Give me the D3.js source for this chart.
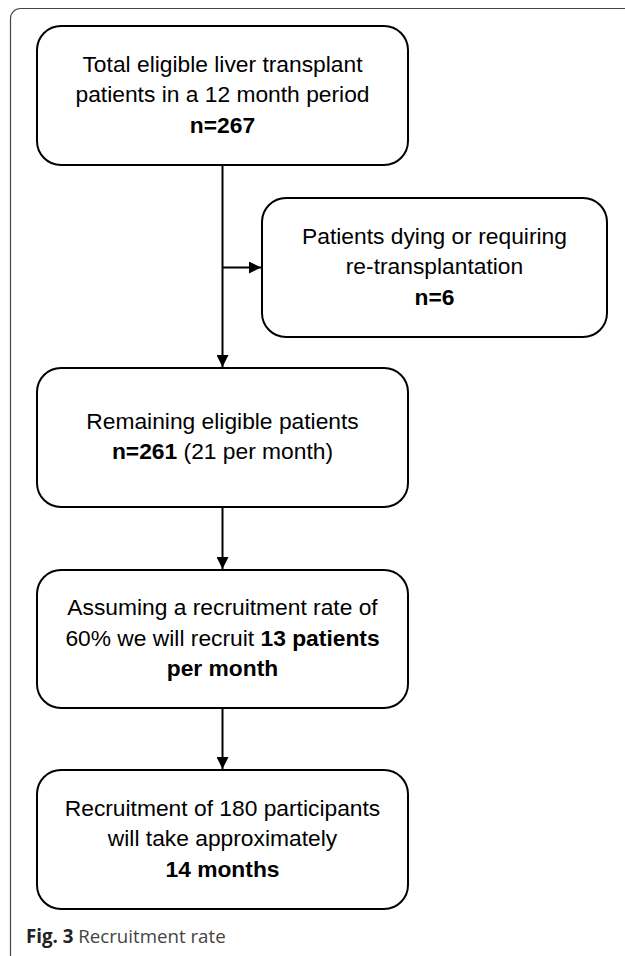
<!DOCTYPE html>
<html>
<head>
<meta charset="utf-8">
<script src="https://cdn.jsdelivr.net/npm/d3@7"></script>
<style>
  body { margin: 0; background: #fff; }
</style>
</head>
<body>
<script>
// flow steps - each line is a list of [text, bold] pieces
var stepIds = ['total', 'excluded', 'remaining', 'rate', 'duration'];
var stepLines = [
  [[['Total eligible liver transplant', false]], [['patients in a 12 month period', false]], [['n=267', true]]],
  [[['Patients dying or requiring', false]], [['re-transplantation', false]], [['n=6', true]]],
  [[['Remaining eligible patients', false]], [['n=261', true], [' (21 per month)', false]]],
  [[['Assuming a recruitment rate of', false]], [['60% we will recruit ', false], ['13 patients', true]], [['per month', true]]],
  [[['Recruitment of 180 participants', false]], [['will take approximately', false]], [['14 months', true]]]
];
// which step each arrow joins (main column + side branch)
var links = [['remaining', 'rate'], ['rate', 'duration']];
var branch = ['total', 'remaining', 'excluded'];
var captionBold = 'Fig. 3';
var captionText = ' Recruitment rate';

var width = 625;
var height = 956;

var svg = d3.select('body')
  .append('svg')
  .attr('width', width)
  .attr('height', height);

svg.append('defs').append('marker')
  .attr('id', 'arrow')
  .attr('viewBox', '0 0 10 10')
  .attr('refX', 10)
  .attr('refY', 5)
  .attr('markerWidth', 13)
  .attr('markerHeight', 12)
  .attr('markerUnits', 'userSpaceOnUse')
  .attr('orient', 'auto')
  .append('path')
  .attr('d', 'M0,0L10,5L0,10Z')
  .attr('fill', '#000');

// outer frame, right side runs off the page
svg.append('rect')
  .attr('x', 10.5)
  .attr('y', 8.5)
  .attr('width', 640)
  .attr('height', 960)
  .attr('rx', 10)
  .attr('fill', 'none')
  .attr('stroke', '#444')
  .attr('stroke-width', 1.2);

// layout: box edges (px)
var col = { main: [37, 408], side: [262, 607] };
var boxY = d3.scaleOrdinal()
  .domain(stepIds)
  .range([[26, 165], [198, 337], [368, 507], [570, 708], [770, 909]]);
var boxX = d3.scaleOrdinal()
  .domain(stepIds)
  .range([col.main, col.side, col.main, col.main, col.main]);

var steps = stepIds.map(function(id, i) {
  var x = boxX(id), y = boxY(id);
  return { id: id, lines: stepLines[i], x0: x[0], x1: x[1], y0: y[0], y1: y[1],
           cx: (x[0] + x[1]) / 2, cy: (y[0] + y[1]) / 2 };
});
var byId = {};
steps.forEach(function(s) { byId[s.id] = s; });

var lineH = 30.5;

var box = svg.append('g').selectAll('g')
  .data(steps)
  .enter()
  .append('g');

box.append('rect')
  .attr('x', function(d) { return d.x0; })
  .attr('y', function(d) { return d.y0; })
  .attr('width', function(d) { return d.x1 - d.x0; })
  .attr('height', function(d) { return d.y1 - d.y0; })
  .attr('rx', 24)
  .attr('fill', '#fff')
  .attr('stroke', '#000')
  .attr('stroke-width', 2);

box.each(function(d) {
  var g = d3.select(this);
  var n = d.lines.length;
  d.lines.forEach(function(line, i) {
    var t = g.append('text')
      .attr('x', d.cx)
      .attr('y', d.cy + (i - (n - 1) / 2) * lineH + 6.5)
      .attr('text-anchor', 'middle')
      .attr('font-family', 'Liberation Sans, Arial, sans-serif')
      .attr('font-size', 22.8)
      .attr('fill', '#000');
    t.selectAll('tspan')
      .data(line)
      .enter()
      .append('tspan')
      .attr('font-weight', function(p) { return p[1] ? 'bold' : 'normal'; })
      .style('white-space', 'pre')
      .text(function(p) { return p[0]; });
  });
});

var arrows = svg.append('g')
  .attr('stroke', '#000')
  .attr('stroke-width', 2)
  .attr('fill', 'none');

// main vertical arrows
links.concat([[branch[0], branch[1]]]).forEach(function(l) {
  var a = byId[l[0]], b = byId[l[1]];
  arrows.append('line')
    .attr('x1', a.cx).attr('y1', a.y1)
    .attr('x2', b.cx).attr('y2', b.y0 - 1)
    .attr('marker-end', 'url(#arrow)');
});

// side branch arrow
var side = byId[branch[2]];
arrows.append('line')
  .attr('x1', byId[branch[0]].cx).attr('y1', side.cy)
  .attr('x2', side.x0 - 1).attr('y2', side.cy)
  .attr('marker-end', 'url(#arrow)');

// caption
var cap = svg.append('text')
  .attr('x', 26)
  .attr('y', 943)
  .attr('font-family', 'Open Sans, sans-serif')
  .attr('font-size', 18.7);
cap.append('tspan')
  .attr('font-weight', 'bold')
  .attr('fill', '#222')
  .text(captionBold);
cap.append('tspan')
  .style('white-space', 'pre')
  .attr('fill', '#444')
  .text(captionText);
</script>
</body>
</html>
